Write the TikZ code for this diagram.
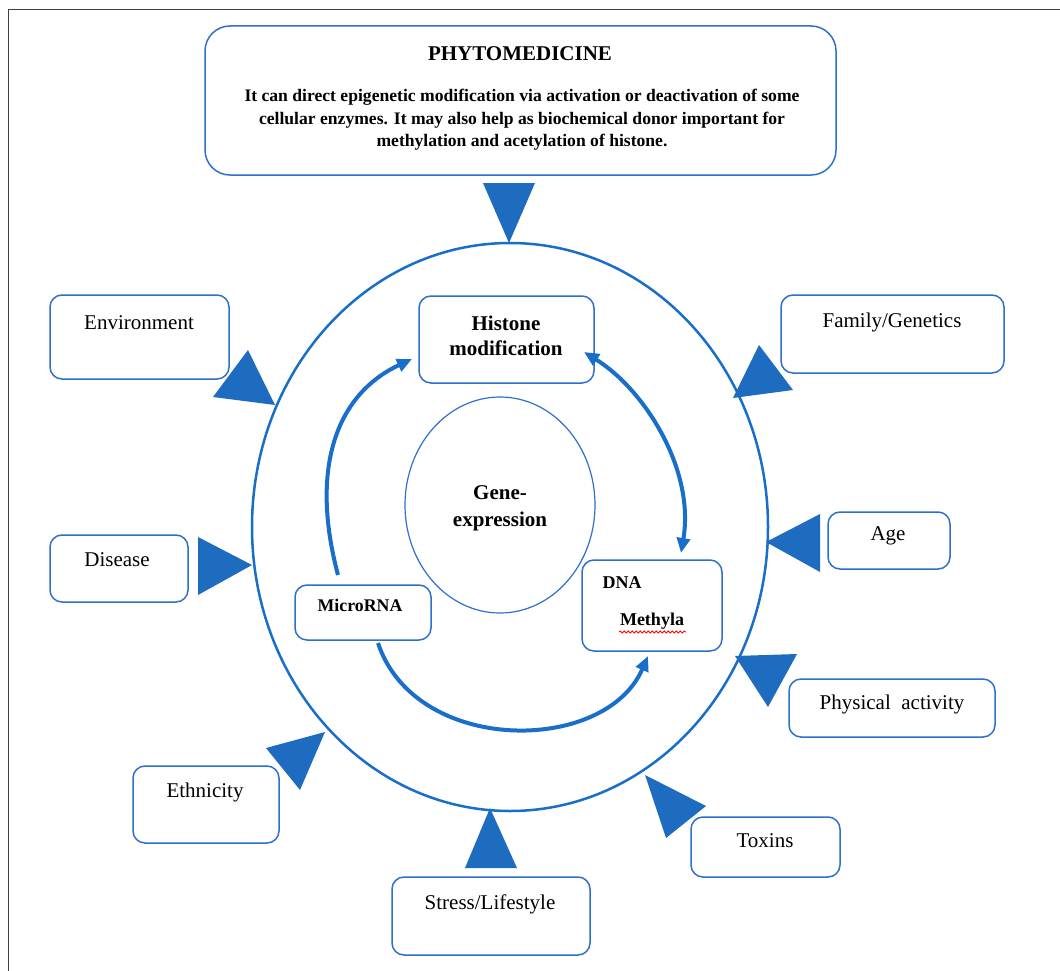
\documentclass[tikz,border=0pt]{standalone}
\usepackage{fontspec}
\setmainfont{Liberation Serif}
\usetikzlibrary{arrows.meta,decorations.pathmorphing,shapes.geometric}
\definecolor{boxblue}{RGB}{46,112,204}
\definecolor{triblue}{RGB}{30,108,192}
\definecolor{arcblue}{RGB}{24,110,200}
\begin{document}
\begin{tikzpicture}[x=1pt,y=-1pt,
  rbox/.style={draw=boxblue, line width=1.5pt, rounded corners=12pt, inner sep=0pt, fill=white},
  lbl/.style={font=\fontsize{21}{24}\selectfont, inner sep=0pt},
  blbl/.style={font=\bfseries\fontsize{21}{25}\selectfont, inner sep=0pt, align=center},
  tri/.style={fill=triblue, draw=none},
  arcarrow/.style={draw=arcblue, line width=4pt},
  tip/.style={-{Triangle[length=15pt,width=13pt]}}
]
\useasboundingbox (0,0) rectangle (1060,971);
\fill[white] (0,0) rectangle (1060,971);
\draw[line width=1pt, black!75] (8,971) -- (8,10) -- (1060,10);

% top box
\node[rbox, rounded corners=25pt, minimum width=631pt, minimum height=149pt] (phyto) at (520.5,100.5) {};
\node[blbl] (phytot) at (520,54) {PHYTOMEDICINE};
\node[font=\bfseries\fontsize{17.6}{22.5}\selectfont, align=center, inner sep=0pt] (phytob) at (522,120)
  {It can direct epigenetic modification via activation or deactivation of some\\
   cellular enzymes. It may also help as biochemical donor important for\\
   methylation and acetylation of histone.};

% ellipses
\node[draw=arcblue, line width=2.5pt, ellipse, minimum width=516pt, minimum height=568pt, inner sep=0pt] (outer) at (510,527) {};
\node[draw=boxblue, line width=1.2pt, ellipse, minimum width=190pt, minimum height=216pt, inner sep=0pt] (gene) at (500,505) {};
\node[blbl] (genet) at (500,508) {Gene-\\[2pt]expression};

% inner boxes
\node[rbox, minimum width=175pt, minimum height=87pt] (hist) at (506.5,339.5) {};
\node[blbl] (histt) at (506,336) {Histone\\modification};
\node[rbox, minimum width=140pt, minimum height=91pt] (dna) at (652,605.5) {};
\node[blbl, font=\bfseries\fontsize{18}{24}\selectfont] (dnat) at (622,583) {DNA};
\node[blbl, font=\bfseries\fontsize{18}{24}\selectfont] (metht) at (652,621) {Methyla};
\draw[red, line width=0.8pt, decorate, decoration={snake, amplitude=1pt, segment length=4pt}] (619,632) -- (686,632);
\node[rbox, minimum width=136pt, minimum height=55pt] (micro) at (363,612.5) {};
\node[blbl, font=\bfseries\fontsize{17.8}{24}\selectfont] (microt) at (360,605) {MicroRNA};

% inner arcs
\coordinate (m1) at (338,575);
\coordinate (h1) at (412,359);
\coordinate (h2) at (584,352);
\coordinate (d1) at (681,553);
\coordinate (m2) at (378,643);
\coordinate (d2) at (648,656);
\draw[arcarrow, tip] (m1) .. controls (310,470) and (335,395) .. (h1);
\draw[arcarrow, {Triangle[length=15pt,width=13pt]}-{Triangle[length=15pt,width=13pt]}] (h2) .. controls (645,390) and (695,470) .. (d1);
\draw[arcarrow, tip] (m2) .. controls (415,755) and (605,755) .. (d2);

% outer boxes
\node[rbox, minimum width=179pt, minimum height=84pt] (env) at (139.5,337) {};
\node[lbl] (envt) at (139,323) {Environment};
\node[rbox, minimum width=223pt, minimum height=78pt] (fam) at (892.5,334) {};
\node[lbl] (famt) at (892,322) {Family/Genetics};
\node[rbox, minimum width=138pt, minimum height=67pt] (dis) at (119,568.5) {};
\node[lbl] (dist) at (117,560) {Disease};
\node[rbox, minimum width=122pt, minimum height=57pt] (age) at (889,540.5) {};
\node[lbl] (aget) at (888,536) {Age};
\node[rbox, minimum width=206pt, minimum height=58pt] (phys) at (892,708) {};
\node[lbl] (physt) at (892,704) {Physical\ \ activity};
\node[rbox, minimum width=146pt, minimum height=77pt] (eth) at (206,804.5) {};
\node[lbl] (etht) at (205,792) {Ethnicity};
\node[rbox, minimum width=149pt, minimum height=60pt] (tox) at (765.5,847) {};
\node[lbl] (toxt) at (765,841) {Toxins};
\node[rbox, minimum width=198pt, minimum height=78pt] (stress) at (491,916) {};
\node[lbl] (stresst) at (490,904) {Stress/Lifestyle};

% triangles
\fill[tri] (483,183) -- (535,183) -- (509,243) -- cycle;
\fill[tri] (248,350) -- (213,397) -- (275,405) -- cycle;
\fill[tri] (759,345) -- (793,390) -- (733,398) -- cycle;
\fill[tri] (198,537) -- (198,595) -- (252,565) -- cycle;
\fill[tri] (820,514) -- (820,572) -- (766,542) -- cycle;
\fill[tri] (735,656) -- (797,654) -- (768,707) -- cycle;
\fill[tri] (645,775) -- (706,806) -- (666,838) -- cycle;
\fill[tri] (325,732) -- (266,748) -- (300,790) -- cycle;
\fill[tri] (465,868) -- (517,868) -- (490,808) -- cycle;
\end{tikzpicture}
\end{document}
